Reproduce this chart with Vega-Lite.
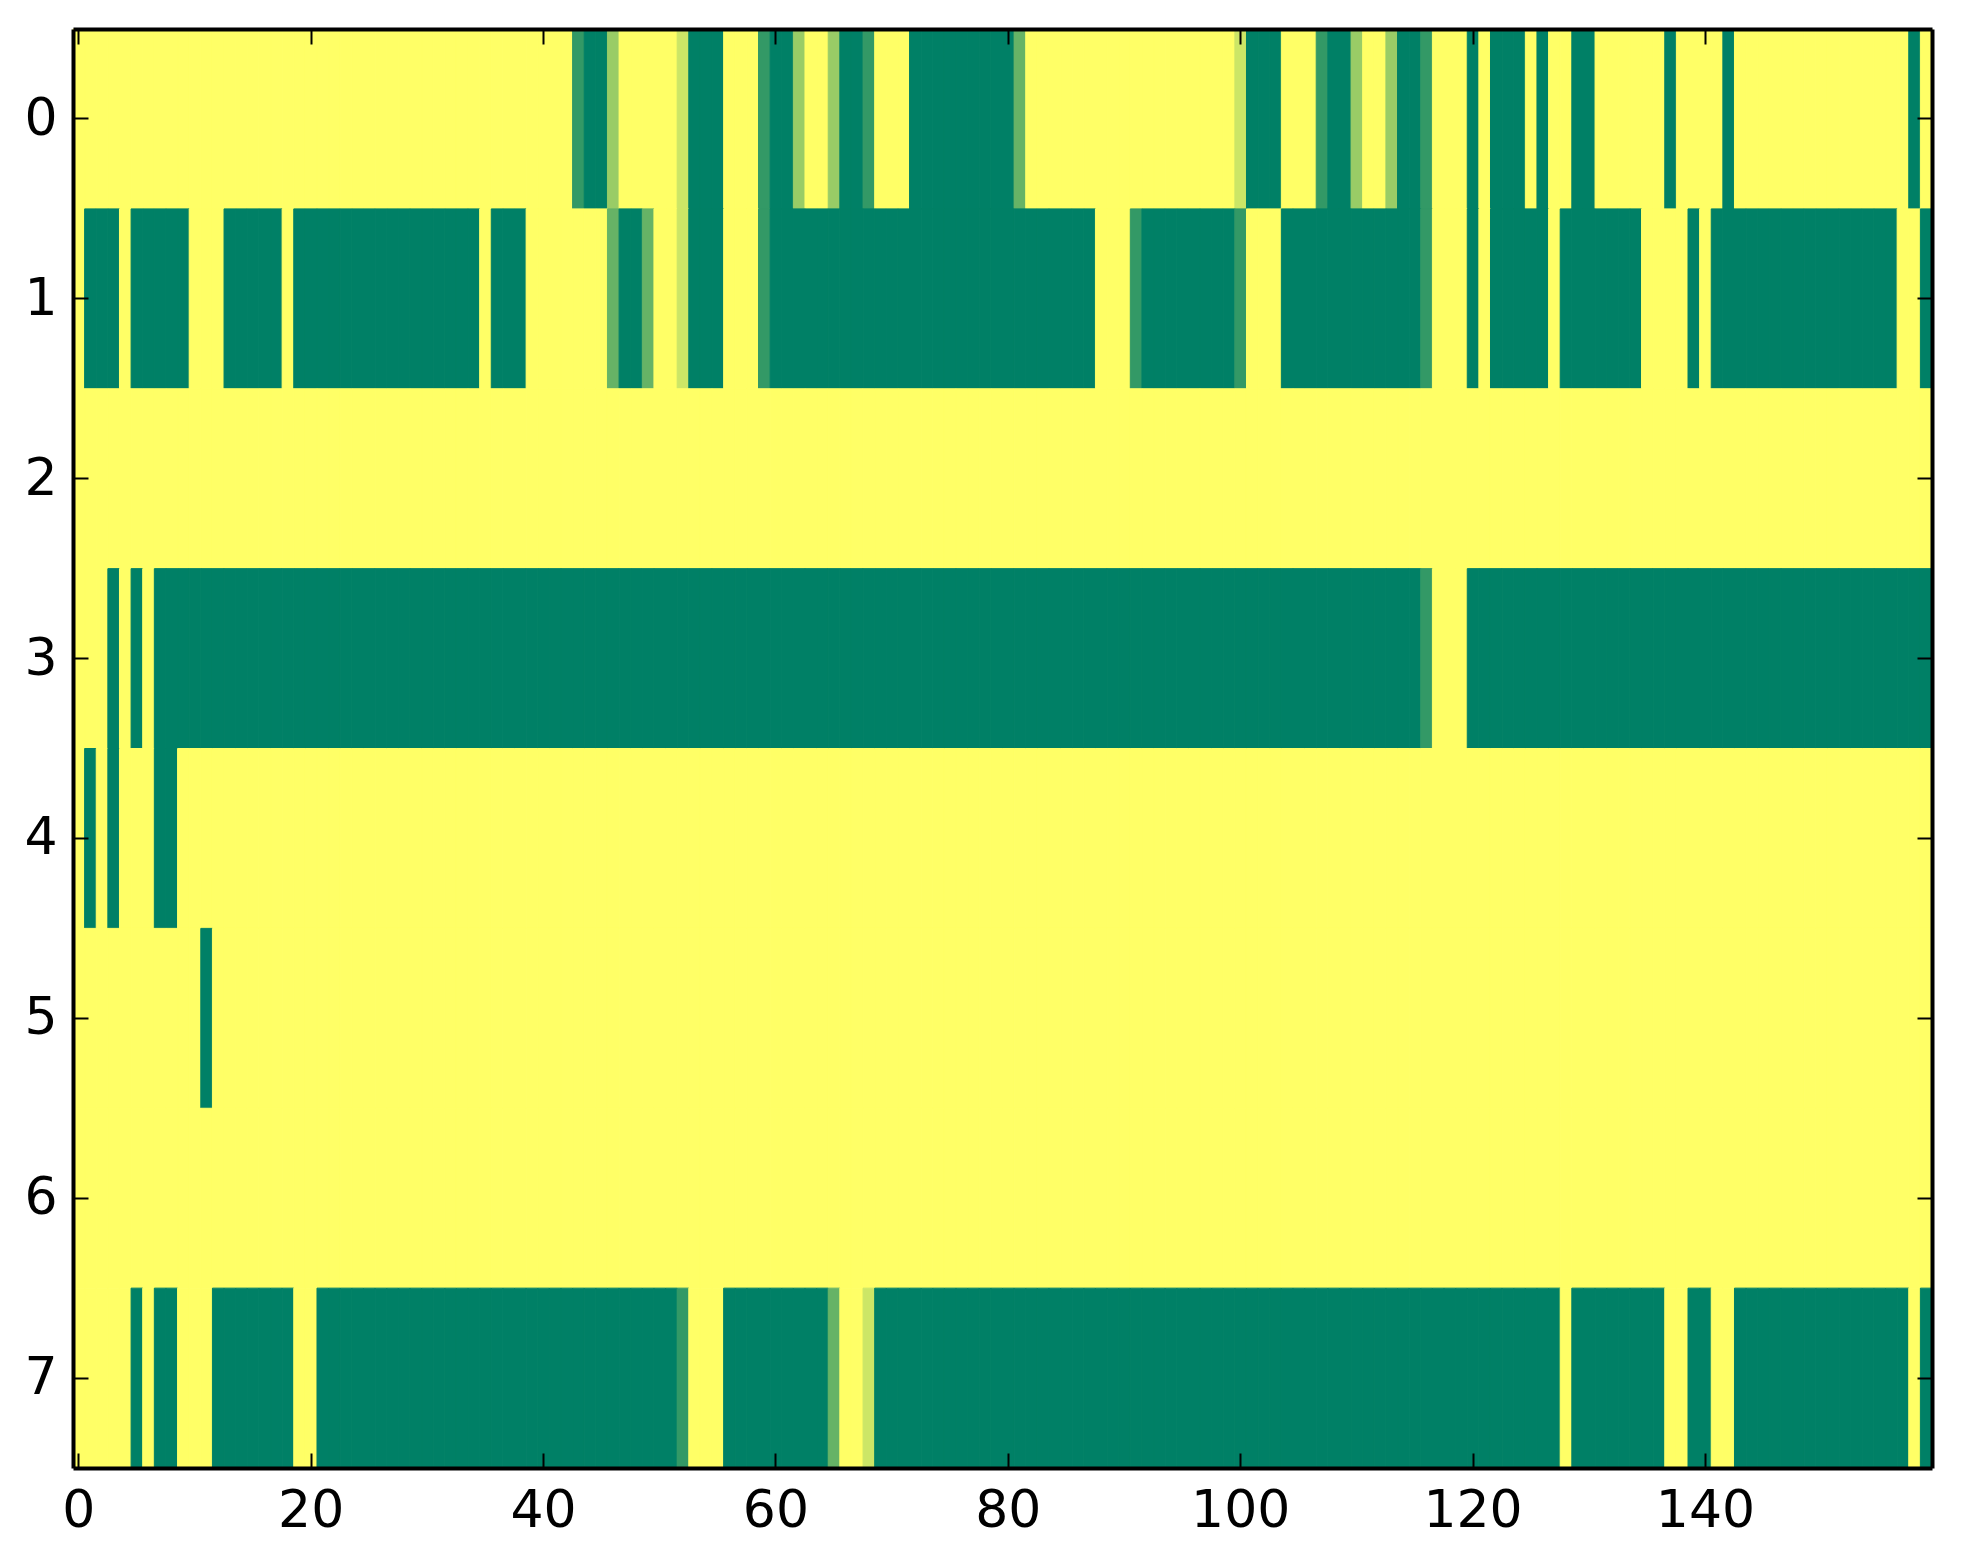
{
  "$schema": "https://vega.github.io/schema/vega-lite/v6.json",
  "width": 1859,
  "height": 1439,
  "autosize": {"type": "none"},
  "padding": {"left": 73, "top": 29, "right": 31, "bottom": 96},
  "background": "white",
  "data": {
    "values": [
      {"r":0,"c":0,"v":1},{"r":0,"c":1,"v":1},{"r":0,"c":2,"v":1},{"r":0,"c":3,"v":1},{"r":0,"c":4,"v":1},{"r":0,"c":5,"v":1},{"r":0,"c":6,"v":1},{"r":0,"c":7,"v":1},{"r":0,"c":8,"v":1},{"r":0,"c":9,"v":1},
      {"r":0,"c":10,"v":1},{"r":0,"c":11,"v":1},{"r":0,"c":12,"v":1},{"r":0,"c":13,"v":1},{"r":0,"c":14,"v":1},{"r":0,"c":15,"v":1},{"r":0,"c":16,"v":1},{"r":0,"c":17,"v":1},{"r":0,"c":18,"v":1},{"r":0,"c":19,"v":1},
      {"r":0,"c":20,"v":1},{"r":0,"c":21,"v":1},{"r":0,"c":22,"v":1},{"r":0,"c":23,"v":1},{"r":0,"c":24,"v":1},{"r":0,"c":25,"v":1},{"r":0,"c":26,"v":1},{"r":0,"c":27,"v":1},{"r":0,"c":28,"v":1},{"r":0,"c":29,"v":1},
      {"r":0,"c":30,"v":1},{"r":0,"c":31,"v":1},{"r":0,"c":32,"v":1},{"r":0,"c":33,"v":1},{"r":0,"c":34,"v":1},{"r":0,"c":35,"v":1},{"r":0,"c":36,"v":1},{"r":0,"c":37,"v":1},{"r":0,"c":38,"v":1},{"r":0,"c":39,"v":1},
      {"r":0,"c":40,"v":1},{"r":0,"c":41,"v":1},{"r":0,"c":42,"v":1},{"r":0,"c":43,"v":0.2},{"r":0,"c":44,"v":0},{"r":0,"c":45,"v":0},{"r":0,"c":46,"v":0.6},{"r":0,"c":47,"v":1},{"r":0,"c":48,"v":1},{"r":0,"c":49,"v":1},
      {"r":0,"c":50,"v":1},{"r":0,"c":51,"v":1},{"r":0,"c":52,"v":0.8},{"r":0,"c":53,"v":0},{"r":0,"c":54,"v":0},{"r":0,"c":55,"v":0},{"r":0,"c":56,"v":1},{"r":0,"c":57,"v":1},{"r":0,"c":58,"v":1},{"r":0,"c":59,"v":0.2},
      {"r":0,"c":60,"v":0},{"r":0,"c":61,"v":0},{"r":0,"c":62,"v":0.6},{"r":0,"c":63,"v":1},{"r":0,"c":64,"v":1},{"r":0,"c":65,"v":0.6},{"r":0,"c":66,"v":0},{"r":0,"c":67,"v":0},{"r":0,"c":68,"v":0.2},{"r":0,"c":69,"v":1},
      {"r":0,"c":70,"v":1},{"r":0,"c":71,"v":1},{"r":0,"c":72,"v":0},{"r":0,"c":73,"v":0},{"r":0,"c":74,"v":0},{"r":0,"c":75,"v":0},{"r":0,"c":76,"v":0},{"r":0,"c":77,"v":0},{"r":0,"c":78,"v":0},{"r":0,"c":79,"v":0},
      {"r":0,"c":80,"v":0},{"r":0,"c":81,"v":0.4},{"r":0,"c":82,"v":1},{"r":0,"c":83,"v":1},{"r":0,"c":84,"v":1},{"r":0,"c":85,"v":1},{"r":0,"c":86,"v":1},{"r":0,"c":87,"v":1},{"r":0,"c":88,"v":1},{"r":0,"c":89,"v":1},
      {"r":0,"c":90,"v":1},{"r":0,"c":91,"v":1},{"r":0,"c":92,"v":1},{"r":0,"c":93,"v":1},{"r":0,"c":94,"v":1},{"r":0,"c":95,"v":1},{"r":0,"c":96,"v":1},{"r":0,"c":97,"v":1},{"r":0,"c":98,"v":1},{"r":0,"c":99,"v":1},
      {"r":0,"c":100,"v":0.8},{"r":0,"c":101,"v":0},{"r":0,"c":102,"v":0},{"r":0,"c":103,"v":0},{"r":0,"c":104,"v":1},{"r":0,"c":105,"v":1},{"r":0,"c":106,"v":1},{"r":0,"c":107,"v":0.2},{"r":0,"c":108,"v":0},{"r":0,"c":109,"v":0},
      {"r":0,"c":110,"v":0.6},{"r":0,"c":111,"v":1},{"r":0,"c":112,"v":1},{"r":0,"c":113,"v":0.6},{"r":0,"c":114,"v":0},{"r":0,"c":115,"v":0},{"r":0,"c":116,"v":0.2},{"r":0,"c":117,"v":1},{"r":0,"c":118,"v":1},{"r":0,"c":119,"v":1},
      {"r":0,"c":120,"v":0},{"r":0,"c":121,"v":1},{"r":0,"c":122,"v":0},{"r":0,"c":123,"v":0},{"r":0,"c":124,"v":0},{"r":0,"c":125,"v":1},{"r":0,"c":126,"v":0},{"r":0,"c":127,"v":1},{"r":0,"c":128,"v":1},{"r":0,"c":129,"v":0},
      {"r":0,"c":130,"v":0},{"r":0,"c":131,"v":1},{"r":0,"c":132,"v":1},{"r":0,"c":133,"v":1},{"r":0,"c":134,"v":1},{"r":0,"c":135,"v":1},{"r":0,"c":136,"v":1},{"r":0,"c":137,"v":0},{"r":0,"c":138,"v":1},{"r":0,"c":139,"v":1},
      {"r":0,"c":140,"v":1},{"r":0,"c":141,"v":1},{"r":0,"c":142,"v":0},{"r":0,"c":143,"v":1},{"r":0,"c":144,"v":1},{"r":0,"c":145,"v":1},{"r":0,"c":146,"v":1},{"r":0,"c":147,"v":1},{"r":0,"c":148,"v":1},{"r":0,"c":149,"v":1},
      {"r":0,"c":150,"v":1},{"r":0,"c":151,"v":1},{"r":0,"c":152,"v":1},{"r":0,"c":153,"v":1},{"r":0,"c":154,"v":1},{"r":0,"c":155,"v":1},{"r":0,"c":156,"v":1},{"r":0,"c":157,"v":1},{"r":0,"c":158,"v":0},{"r":0,"c":159,"v":1},

      {"r":1,"c":0,"v":1},{"r":1,"c":1,"v":0},{"r":1,"c":2,"v":0},{"r":1,"c":3,"v":0},{"r":1,"c":4,"v":1},{"r":1,"c":5,"v":0},{"r":1,"c":6,"v":0},{"r":1,"c":7,"v":0},{"r":1,"c":8,"v":0},{"r":1,"c":9,"v":0},
      {"r":1,"c":10,"v":1},{"r":1,"c":11,"v":1},{"r":1,"c":12,"v":1},{"r":1,"c":13,"v":0},{"r":1,"c":14,"v":0},{"r":1,"c":15,"v":0},{"r":1,"c":16,"v":0},{"r":1,"c":17,"v":0},{"r":1,"c":18,"v":1},{"r":1,"c":19,"v":0},
      {"r":1,"c":20,"v":0},{"r":1,"c":21,"v":0},{"r":1,"c":22,"v":0},{"r":1,"c":23,"v":0},{"r":1,"c":24,"v":0},{"r":1,"c":25,"v":0},{"r":1,"c":26,"v":0},{"r":1,"c":27,"v":0},{"r":1,"c":28,"v":0},{"r":1,"c":29,"v":0},
      {"r":1,"c":30,"v":0},{"r":1,"c":31,"v":0},{"r":1,"c":32,"v":0},{"r":1,"c":33,"v":0},{"r":1,"c":34,"v":0},{"r":1,"c":35,"v":1},{"r":1,"c":36,"v":0},{"r":1,"c":37,"v":0},{"r":1,"c":38,"v":0},{"r":1,"c":39,"v":1},
      {"r":1,"c":40,"v":1},{"r":1,"c":41,"v":1},{"r":1,"c":42,"v":1},{"r":1,"c":43,"v":1},{"r":1,"c":44,"v":1},{"r":1,"c":45,"v":1},{"r":1,"c":46,"v":0.4},{"r":1,"c":47,"v":0},{"r":1,"c":48,"v":0},{"r":1,"c":49,"v":0.4},
      {"r":1,"c":50,"v":1},{"r":1,"c":51,"v":1},{"r":1,"c":52,"v":0.8},{"r":1,"c":53,"v":0},{"r":1,"c":54,"v":0},{"r":1,"c":55,"v":0},{"r":1,"c":56,"v":1},{"r":1,"c":57,"v":1},{"r":1,"c":58,"v":1},{"r":1,"c":59,"v":0.2},
      {"r":1,"c":60,"v":0},{"r":1,"c":61,"v":0},{"r":1,"c":62,"v":0},{"r":1,"c":63,"v":0},{"r":1,"c":64,"v":0},{"r":1,"c":65,"v":0},{"r":1,"c":66,"v":0},{"r":1,"c":67,"v":0},{"r":1,"c":68,"v":0},{"r":1,"c":69,"v":0},
      {"r":1,"c":70,"v":0},{"r":1,"c":71,"v":0},{"r":1,"c":72,"v":0},{"r":1,"c":73,"v":0},{"r":1,"c":74,"v":0},{"r":1,"c":75,"v":0},{"r":1,"c":76,"v":0},{"r":1,"c":77,"v":0},{"r":1,"c":78,"v":0},{"r":1,"c":79,"v":0},
      {"r":1,"c":80,"v":0},{"r":1,"c":81,"v":0},{"r":1,"c":82,"v":0},{"r":1,"c":83,"v":0},{"r":1,"c":84,"v":0},{"r":1,"c":85,"v":0},{"r":1,"c":86,"v":0},{"r":1,"c":87,"v":0},{"r":1,"c":88,"v":1},{"r":1,"c":89,"v":1},
      {"r":1,"c":90,"v":1},{"r":1,"c":91,"v":0.2},{"r":1,"c":92,"v":0},{"r":1,"c":93,"v":0},{"r":1,"c":94,"v":0},{"r":1,"c":95,"v":0},{"r":1,"c":96,"v":0},{"r":1,"c":97,"v":0},{"r":1,"c":98,"v":0},{"r":1,"c":99,"v":0},
      {"r":1,"c":100,"v":0.2},{"r":1,"c":101,"v":1},{"r":1,"c":102,"v":1},{"r":1,"c":103,"v":1},{"r":1,"c":104,"v":0},{"r":1,"c":105,"v":0},{"r":1,"c":106,"v":0},{"r":1,"c":107,"v":0},{"r":1,"c":108,"v":0},{"r":1,"c":109,"v":0},
      {"r":1,"c":110,"v":0},{"r":1,"c":111,"v":0},{"r":1,"c":112,"v":0},{"r":1,"c":113,"v":0},{"r":1,"c":114,"v":0},{"r":1,"c":115,"v":0},{"r":1,"c":116,"v":0.2},{"r":1,"c":117,"v":1},{"r":1,"c":118,"v":1},{"r":1,"c":119,"v":1},
      {"r":1,"c":120,"v":0},{"r":1,"c":121,"v":1},{"r":1,"c":122,"v":0},{"r":1,"c":123,"v":0},{"r":1,"c":124,"v":0},{"r":1,"c":125,"v":0},{"r":1,"c":126,"v":0},{"r":1,"c":127,"v":1},{"r":1,"c":128,"v":0},{"r":1,"c":129,"v":0},
      {"r":1,"c":130,"v":0},{"r":1,"c":131,"v":0},{"r":1,"c":132,"v":0},{"r":1,"c":133,"v":0},{"r":1,"c":134,"v":0},{"r":1,"c":135,"v":1},{"r":1,"c":136,"v":1},{"r":1,"c":137,"v":1},{"r":1,"c":138,"v":1},{"r":1,"c":139,"v":0},
      {"r":1,"c":140,"v":1},{"r":1,"c":141,"v":0},{"r":1,"c":142,"v":0},{"r":1,"c":143,"v":0},{"r":1,"c":144,"v":0},{"r":1,"c":145,"v":0},{"r":1,"c":146,"v":0},{"r":1,"c":147,"v":0},{"r":1,"c":148,"v":0},{"r":1,"c":149,"v":0},
      {"r":1,"c":150,"v":0},{"r":1,"c":151,"v":0},{"r":1,"c":152,"v":0},{"r":1,"c":153,"v":0},{"r":1,"c":154,"v":0},{"r":1,"c":155,"v":0},{"r":1,"c":156,"v":0},{"r":1,"c":157,"v":1},{"r":1,"c":158,"v":1},{"r":1,"c":159,"v":0},

      {"r":2,"c":0,"v":1},{"r":2,"c":1,"v":1},{"r":2,"c":2,"v":1},{"r":2,"c":3,"v":1},{"r":2,"c":4,"v":1},{"r":2,"c":5,"v":1},{"r":2,"c":6,"v":1},{"r":2,"c":7,"v":1},{"r":2,"c":8,"v":1},{"r":2,"c":9,"v":1},
      {"r":2,"c":10,"v":1},{"r":2,"c":11,"v":1},{"r":2,"c":12,"v":1},{"r":2,"c":13,"v":1},{"r":2,"c":14,"v":1},{"r":2,"c":15,"v":1},{"r":2,"c":16,"v":1},{"r":2,"c":17,"v":1},{"r":2,"c":18,"v":1},{"r":2,"c":19,"v":1},
      {"r":2,"c":20,"v":1},{"r":2,"c":21,"v":1},{"r":2,"c":22,"v":1},{"r":2,"c":23,"v":1},{"r":2,"c":24,"v":1},{"r":2,"c":25,"v":1},{"r":2,"c":26,"v":1},{"r":2,"c":27,"v":1},{"r":2,"c":28,"v":1},{"r":2,"c":29,"v":1},
      {"r":2,"c":30,"v":1},{"r":2,"c":31,"v":1},{"r":2,"c":32,"v":1},{"r":2,"c":33,"v":1},{"r":2,"c":34,"v":1},{"r":2,"c":35,"v":1},{"r":2,"c":36,"v":1},{"r":2,"c":37,"v":1},{"r":2,"c":38,"v":1},{"r":2,"c":39,"v":1},
      {"r":2,"c":40,"v":1},{"r":2,"c":41,"v":1},{"r":2,"c":42,"v":1},{"r":2,"c":43,"v":1},{"r":2,"c":44,"v":1},{"r":2,"c":45,"v":1},{"r":2,"c":46,"v":1},{"r":2,"c":47,"v":1},{"r":2,"c":48,"v":1},{"r":2,"c":49,"v":1},
      {"r":2,"c":50,"v":1},{"r":2,"c":51,"v":1},{"r":2,"c":52,"v":1},{"r":2,"c":53,"v":1},{"r":2,"c":54,"v":1},{"r":2,"c":55,"v":1},{"r":2,"c":56,"v":1},{"r":2,"c":57,"v":1},{"r":2,"c":58,"v":1},{"r":2,"c":59,"v":1},
      {"r":2,"c":60,"v":1},{"r":2,"c":61,"v":1},{"r":2,"c":62,"v":1},{"r":2,"c":63,"v":1},{"r":2,"c":64,"v":1},{"r":2,"c":65,"v":1},{"r":2,"c":66,"v":1},{"r":2,"c":67,"v":1},{"r":2,"c":68,"v":1},{"r":2,"c":69,"v":1},
      {"r":2,"c":70,"v":1},{"r":2,"c":71,"v":1},{"r":2,"c":72,"v":1},{"r":2,"c":73,"v":1},{"r":2,"c":74,"v":1},{"r":2,"c":75,"v":1},{"r":2,"c":76,"v":1},{"r":2,"c":77,"v":1},{"r":2,"c":78,"v":1},{"r":2,"c":79,"v":1},
      {"r":2,"c":80,"v":1},{"r":2,"c":81,"v":1},{"r":2,"c":82,"v":1},{"r":2,"c":83,"v":1},{"r":2,"c":84,"v":1},{"r":2,"c":85,"v":1},{"r":2,"c":86,"v":1},{"r":2,"c":87,"v":1},{"r":2,"c":88,"v":1},{"r":2,"c":89,"v":1},
      {"r":2,"c":90,"v":1},{"r":2,"c":91,"v":1},{"r":2,"c":92,"v":1},{"r":2,"c":93,"v":1},{"r":2,"c":94,"v":1},{"r":2,"c":95,"v":1},{"r":2,"c":96,"v":1},{"r":2,"c":97,"v":1},{"r":2,"c":98,"v":1},{"r":2,"c":99,"v":1},
      {"r":2,"c":100,"v":1},{"r":2,"c":101,"v":1},{"r":2,"c":102,"v":1},{"r":2,"c":103,"v":1},{"r":2,"c":104,"v":1},{"r":2,"c":105,"v":1},{"r":2,"c":106,"v":1},{"r":2,"c":107,"v":1},{"r":2,"c":108,"v":1},{"r":2,"c":109,"v":1},
      {"r":2,"c":110,"v":1},{"r":2,"c":111,"v":1},{"r":2,"c":112,"v":1},{"r":2,"c":113,"v":1},{"r":2,"c":114,"v":1},{"r":2,"c":115,"v":1},{"r":2,"c":116,"v":1},{"r":2,"c":117,"v":1},{"r":2,"c":118,"v":1},{"r":2,"c":119,"v":1},
      {"r":2,"c":120,"v":1},{"r":2,"c":121,"v":1},{"r":2,"c":122,"v":1},{"r":2,"c":123,"v":1},{"r":2,"c":124,"v":1},{"r":2,"c":125,"v":1},{"r":2,"c":126,"v":1},{"r":2,"c":127,"v":1},{"r":2,"c":128,"v":1},{"r":2,"c":129,"v":1},
      {"r":2,"c":130,"v":1},{"r":2,"c":131,"v":1},{"r":2,"c":132,"v":1},{"r":2,"c":133,"v":1},{"r":2,"c":134,"v":1},{"r":2,"c":135,"v":1},{"r":2,"c":136,"v":1},{"r":2,"c":137,"v":1},{"r":2,"c":138,"v":1},{"r":2,"c":139,"v":1},
      {"r":2,"c":140,"v":1},{"r":2,"c":141,"v":1},{"r":2,"c":142,"v":1},{"r":2,"c":143,"v":1},{"r":2,"c":144,"v":1},{"r":2,"c":145,"v":1},{"r":2,"c":146,"v":1},{"r":2,"c":147,"v":1},{"r":2,"c":148,"v":1},{"r":2,"c":149,"v":1},
      {"r":2,"c":150,"v":1},{"r":2,"c":151,"v":1},{"r":2,"c":152,"v":1},{"r":2,"c":153,"v":1},{"r":2,"c":154,"v":1},{"r":2,"c":155,"v":1},{"r":2,"c":156,"v":1},{"r":2,"c":157,"v":1},{"r":2,"c":158,"v":1},{"r":2,"c":159,"v":1},

      {"r":3,"c":0,"v":1},{"r":3,"c":1,"v":1},{"r":3,"c":2,"v":1},{"r":3,"c":3,"v":0},{"r":3,"c":4,"v":1},{"r":3,"c":5,"v":0},{"r":3,"c":6,"v":1},{"r":3,"c":7,"v":0},{"r":3,"c":8,"v":0},{"r":3,"c":9,"v":0},
      {"r":3,"c":10,"v":0},{"r":3,"c":11,"v":0},{"r":3,"c":12,"v":0},{"r":3,"c":13,"v":0},{"r":3,"c":14,"v":0},{"r":3,"c":15,"v":0},{"r":3,"c":16,"v":0},{"r":3,"c":17,"v":0},{"r":3,"c":18,"v":0},{"r":3,"c":19,"v":0},
      {"r":3,"c":20,"v":0},{"r":3,"c":21,"v":0},{"r":3,"c":22,"v":0},{"r":3,"c":23,"v":0},{"r":3,"c":24,"v":0},{"r":3,"c":25,"v":0},{"r":3,"c":26,"v":0},{"r":3,"c":27,"v":0},{"r":3,"c":28,"v":0},{"r":3,"c":29,"v":0},
      {"r":3,"c":30,"v":0},{"r":3,"c":31,"v":0},{"r":3,"c":32,"v":0},{"r":3,"c":33,"v":0},{"r":3,"c":34,"v":0},{"r":3,"c":35,"v":0},{"r":3,"c":36,"v":0},{"r":3,"c":37,"v":0},{"r":3,"c":38,"v":0},{"r":3,"c":39,"v":0},
      {"r":3,"c":40,"v":0},{"r":3,"c":41,"v":0},{"r":3,"c":42,"v":0},{"r":3,"c":43,"v":0},{"r":3,"c":44,"v":0},{"r":3,"c":45,"v":0},{"r":3,"c":46,"v":0},{"r":3,"c":47,"v":0},{"r":3,"c":48,"v":0},{"r":3,"c":49,"v":0},
      {"r":3,"c":50,"v":0},{"r":3,"c":51,"v":0},{"r":3,"c":52,"v":0},{"r":3,"c":53,"v":0},{"r":3,"c":54,"v":0},{"r":3,"c":55,"v":0},{"r":3,"c":56,"v":0},{"r":3,"c":57,"v":0},{"r":3,"c":58,"v":0},{"r":3,"c":59,"v":0},
      {"r":3,"c":60,"v":0},{"r":3,"c":61,"v":0},{"r":3,"c":62,"v":0},{"r":3,"c":63,"v":0},{"r":3,"c":64,"v":0},{"r":3,"c":65,"v":0},{"r":3,"c":66,"v":0},{"r":3,"c":67,"v":0},{"r":3,"c":68,"v":0},{"r":3,"c":69,"v":0},
      {"r":3,"c":70,"v":0},{"r":3,"c":71,"v":0},{"r":3,"c":72,"v":0},{"r":3,"c":73,"v":0},{"r":3,"c":74,"v":0},{"r":3,"c":75,"v":0},{"r":3,"c":76,"v":0},{"r":3,"c":77,"v":0},{"r":3,"c":78,"v":0},{"r":3,"c":79,"v":0},
      {"r":3,"c":80,"v":0},{"r":3,"c":81,"v":0},{"r":3,"c":82,"v":0},{"r":3,"c":83,"v":0},{"r":3,"c":84,"v":0},{"r":3,"c":85,"v":0},{"r":3,"c":86,"v":0},{"r":3,"c":87,"v":0},{"r":3,"c":88,"v":0},{"r":3,"c":89,"v":0},
      {"r":3,"c":90,"v":0},{"r":3,"c":91,"v":0},{"r":3,"c":92,"v":0},{"r":3,"c":93,"v":0},{"r":3,"c":94,"v":0},{"r":3,"c":95,"v":0},{"r":3,"c":96,"v":0},{"r":3,"c":97,"v":0},{"r":3,"c":98,"v":0},{"r":3,"c":99,"v":0},
      {"r":3,"c":100,"v":0},{"r":3,"c":101,"v":0},{"r":3,"c":102,"v":0},{"r":3,"c":103,"v":0},{"r":3,"c":104,"v":0},{"r":3,"c":105,"v":0},{"r":3,"c":106,"v":0},{"r":3,"c":107,"v":0},{"r":3,"c":108,"v":0},{"r":3,"c":109,"v":0},
      {"r":3,"c":110,"v":0},{"r":3,"c":111,"v":0},{"r":3,"c":112,"v":0},{"r":3,"c":113,"v":0},{"r":3,"c":114,"v":0},{"r":3,"c":115,"v":0},{"r":3,"c":116,"v":0.2},{"r":3,"c":117,"v":1},{"r":3,"c":118,"v":1},{"r":3,"c":119,"v":1},
      {"r":3,"c":120,"v":0},{"r":3,"c":121,"v":0},{"r":3,"c":122,"v":0},{"r":3,"c":123,"v":0},{"r":3,"c":124,"v":0},{"r":3,"c":125,"v":0},{"r":3,"c":126,"v":0},{"r":3,"c":127,"v":0},{"r":3,"c":128,"v":0},{"r":3,"c":129,"v":0},
      {"r":3,"c":130,"v":0},{"r":3,"c":131,"v":0},{"r":3,"c":132,"v":0},{"r":3,"c":133,"v":0},{"r":3,"c":134,"v":0},{"r":3,"c":135,"v":0},{"r":3,"c":136,"v":0},{"r":3,"c":137,"v":0},{"r":3,"c":138,"v":0},{"r":3,"c":139,"v":0},
      {"r":3,"c":140,"v":0},{"r":3,"c":141,"v":0},{"r":3,"c":142,"v":0},{"r":3,"c":143,"v":0},{"r":3,"c":144,"v":0},{"r":3,"c":145,"v":0},{"r":3,"c":146,"v":0},{"r":3,"c":147,"v":0},{"r":3,"c":148,"v":0},{"r":3,"c":149,"v":0},
      {"r":3,"c":150,"v":0},{"r":3,"c":151,"v":0},{"r":3,"c":152,"v":0},{"r":3,"c":153,"v":0},{"r":3,"c":154,"v":0},{"r":3,"c":155,"v":0},{"r":3,"c":156,"v":0},{"r":3,"c":157,"v":0},{"r":3,"c":158,"v":0},{"r":3,"c":159,"v":0},

      {"r":4,"c":0,"v":1},{"r":4,"c":1,"v":0},{"r":4,"c":2,"v":1},{"r":4,"c":3,"v":0},{"r":4,"c":4,"v":1},{"r":4,"c":5,"v":1},{"r":4,"c":6,"v":1},{"r":4,"c":7,"v":0},{"r":4,"c":8,"v":0},{"r":4,"c":9,"v":1},
      {"r":4,"c":10,"v":1},{"r":4,"c":11,"v":1},{"r":4,"c":12,"v":1},{"r":4,"c":13,"v":1},{"r":4,"c":14,"v":1},{"r":4,"c":15,"v":1},{"r":4,"c":16,"v":1},{"r":4,"c":17,"v":1},{"r":4,"c":18,"v":1},{"r":4,"c":19,"v":1},
      {"r":4,"c":20,"v":1},{"r":4,"c":21,"v":1},{"r":4,"c":22,"v":1},{"r":4,"c":23,"v":1},{"r":4,"c":24,"v":1},{"r":4,"c":25,"v":1},{"r":4,"c":26,"v":1},{"r":4,"c":27,"v":1},{"r":4,"c":28,"v":1},{"r":4,"c":29,"v":1},
      {"r":4,"c":30,"v":1},{"r":4,"c":31,"v":1},{"r":4,"c":32,"v":1},{"r":4,"c":33,"v":1},{"r":4,"c":34,"v":1},{"r":4,"c":35,"v":1},{"r":4,"c":36,"v":1},{"r":4,"c":37,"v":1},{"r":4,"c":38,"v":1},{"r":4,"c":39,"v":1},
      {"r":4,"c":40,"v":1},{"r":4,"c":41,"v":1},{"r":4,"c":42,"v":1},{"r":4,"c":43,"v":1},{"r":4,"c":44,"v":1},{"r":4,"c":45,"v":1},{"r":4,"c":46,"v":1},{"r":4,"c":47,"v":1},{"r":4,"c":48,"v":1},{"r":4,"c":49,"v":1},
      {"r":4,"c":50,"v":1},{"r":4,"c":51,"v":1},{"r":4,"c":52,"v":1},{"r":4,"c":53,"v":1},{"r":4,"c":54,"v":1},{"r":4,"c":55,"v":1},{"r":4,"c":56,"v":1},{"r":4,"c":57,"v":1},{"r":4,"c":58,"v":1},{"r":4,"c":59,"v":1},
      {"r":4,"c":60,"v":1},{"r":4,"c":61,"v":1},{"r":4,"c":62,"v":1},{"r":4,"c":63,"v":1},{"r":4,"c":64,"v":1},{"r":4,"c":65,"v":1},{"r":4,"c":66,"v":1},{"r":4,"c":67,"v":1},{"r":4,"c":68,"v":1},{"r":4,"c":69,"v":1},
      {"r":4,"c":70,"v":1},{"r":4,"c":71,"v":1},{"r":4,"c":72,"v":1},{"r":4,"c":73,"v":1},{"r":4,"c":74,"v":1},{"r":4,"c":75,"v":1},{"r":4,"c":76,"v":1},{"r":4,"c":77,"v":1},{"r":4,"c":78,"v":1},{"r":4,"c":79,"v":1},
      {"r":4,"c":80,"v":1},{"r":4,"c":81,"v":1},{"r":4,"c":82,"v":1},{"r":4,"c":83,"v":1},{"r":4,"c":84,"v":1},{"r":4,"c":85,"v":1},{"r":4,"c":86,"v":1},{"r":4,"c":87,"v":1},{"r":4,"c":88,"v":1},{"r":4,"c":89,"v":1},
      {"r":4,"c":90,"v":1},{"r":4,"c":91,"v":1},{"r":4,"c":92,"v":1},{"r":4,"c":93,"v":1},{"r":4,"c":94,"v":1},{"r":4,"c":95,"v":1},{"r":4,"c":96,"v":1},{"r":4,"c":97,"v":1},{"r":4,"c":98,"v":1},{"r":4,"c":99,"v":1},
      {"r":4,"c":100,"v":1},{"r":4,"c":101,"v":1},{"r":4,"c":102,"v":1},{"r":4,"c":103,"v":1},{"r":4,"c":104,"v":1},{"r":4,"c":105,"v":1},{"r":4,"c":106,"v":1},{"r":4,"c":107,"v":1},{"r":4,"c":108,"v":1},{"r":4,"c":109,"v":1},
      {"r":4,"c":110,"v":1},{"r":4,"c":111,"v":1},{"r":4,"c":112,"v":1},{"r":4,"c":113,"v":1},{"r":4,"c":114,"v":1},{"r":4,"c":115,"v":1},{"r":4,"c":116,"v":1},{"r":4,"c":117,"v":1},{"r":4,"c":118,"v":1},{"r":4,"c":119,"v":1},
      {"r":4,"c":120,"v":1},{"r":4,"c":121,"v":1},{"r":4,"c":122,"v":1},{"r":4,"c":123,"v":1},{"r":4,"c":124,"v":1},{"r":4,"c":125,"v":1},{"r":4,"c":126,"v":1},{"r":4,"c":127,"v":1},{"r":4,"c":128,"v":1},{"r":4,"c":129,"v":1},
      {"r":4,"c":130,"v":1},{"r":4,"c":131,"v":1},{"r":4,"c":132,"v":1},{"r":4,"c":133,"v":1},{"r":4,"c":134,"v":1},{"r":4,"c":135,"v":1},{"r":4,"c":136,"v":1},{"r":4,"c":137,"v":1},{"r":4,"c":138,"v":1},{"r":4,"c":139,"v":1},
      {"r":4,"c":140,"v":1},{"r":4,"c":141,"v":1},{"r":4,"c":142,"v":1},{"r":4,"c":143,"v":1},{"r":4,"c":144,"v":1},{"r":4,"c":145,"v":1},{"r":4,"c":146,"v":1},{"r":4,"c":147,"v":1},{"r":4,"c":148,"v":1},{"r":4,"c":149,"v":1},
      {"r":4,"c":150,"v":1},{"r":4,"c":151,"v":1},{"r":4,"c":152,"v":1},{"r":4,"c":153,"v":1},{"r":4,"c":154,"v":1},{"r":4,"c":155,"v":1},{"r":4,"c":156,"v":1},{"r":4,"c":157,"v":1},{"r":4,"c":158,"v":1},{"r":4,"c":159,"v":1},

      {"r":5,"c":0,"v":1},{"r":5,"c":1,"v":1},{"r":5,"c":2,"v":1},{"r":5,"c":3,"v":1},{"r":5,"c":4,"v":1},{"r":5,"c":5,"v":1},{"r":5,"c":6,"v":1},{"r":5,"c":7,"v":1},{"r":5,"c":8,"v":1},{"r":5,"c":9,"v":1},
      {"r":5,"c":10,"v":1},{"r":5,"c":11,"v":0},{"r":5,"c":12,"v":1},{"r":5,"c":13,"v":1},{"r":5,"c":14,"v":1},{"r":5,"c":15,"v":1},{"r":5,"c":16,"v":1},{"r":5,"c":17,"v":1},{"r":5,"c":18,"v":1},{"r":5,"c":19,"v":1},
      {"r":5,"c":20,"v":1},{"r":5,"c":21,"v":1},{"r":5,"c":22,"v":1},{"r":5,"c":23,"v":1},{"r":5,"c":24,"v":1},{"r":5,"c":25,"v":1},{"r":5,"c":26,"v":1},{"r":5,"c":27,"v":1},{"r":5,"c":28,"v":1},{"r":5,"c":29,"v":1},
      {"r":5,"c":30,"v":1},{"r":5,"c":31,"v":1},{"r":5,"c":32,"v":1},{"r":5,"c":33,"v":1},{"r":5,"c":34,"v":1},{"r":5,"c":35,"v":1},{"r":5,"c":36,"v":1},{"r":5,"c":37,"v":1},{"r":5,"c":38,"v":1},{"r":5,"c":39,"v":1},
      {"r":5,"c":40,"v":1},{"r":5,"c":41,"v":1},{"r":5,"c":42,"v":1},{"r":5,"c":43,"v":1},{"r":5,"c":44,"v":1},{"r":5,"c":45,"v":1},{"r":5,"c":46,"v":1},{"r":5,"c":47,"v":1},{"r":5,"c":48,"v":1},{"r":5,"c":49,"v":1},
      {"r":5,"c":50,"v":1},{"r":5,"c":51,"v":1},{"r":5,"c":52,"v":1},{"r":5,"c":53,"v":1},{"r":5,"c":54,"v":1},{"r":5,"c":55,"v":1},{"r":5,"c":56,"v":1},{"r":5,"c":57,"v":1},{"r":5,"c":58,"v":1},{"r":5,"c":59,"v":1},
      {"r":5,"c":60,"v":1},{"r":5,"c":61,"v":1},{"r":5,"c":62,"v":1},{"r":5,"c":63,"v":1},{"r":5,"c":64,"v":1},{"r":5,"c":65,"v":1},{"r":5,"c":66,"v":1},{"r":5,"c":67,"v":1},{"r":5,"c":68,"v":1},{"r":5,"c":69,"v":1},
      {"r":5,"c":70,"v":1},{"r":5,"c":71,"v":1},{"r":5,"c":72,"v":1},{"r":5,"c":73,"v":1},{"r":5,"c":74,"v":1},{"r":5,"c":75,"v":1},{"r":5,"c":76,"v":1},{"r":5,"c":77,"v":1},{"r":5,"c":78,"v":1},{"r":5,"c":79,"v":1},
      {"r":5,"c":80,"v":1},{"r":5,"c":81,"v":1},{"r":5,"c":82,"v":1},{"r":5,"c":83,"v":1},{"r":5,"c":84,"v":1},{"r":5,"c":85,"v":1},{"r":5,"c":86,"v":1},{"r":5,"c":87,"v":1},{"r":5,"c":88,"v":1},{"r":5,"c":89,"v":1},
      {"r":5,"c":90,"v":1},{"r":5,"c":91,"v":1},{"r":5,"c":92,"v":1},{"r":5,"c":93,"v":1},{"r":5,"c":94,"v":1},{"r":5,"c":95,"v":1},{"r":5,"c":96,"v":1},{"r":5,"c":97,"v":1},{"r":5,"c":98,"v":1},{"r":5,"c":99,"v":1},
      {"r":5,"c":100,"v":1},{"r":5,"c":101,"v":1},{"r":5,"c":102,"v":1},{"r":5,"c":103,"v":1},{"r":5,"c":104,"v":1},{"r":5,"c":105,"v":1},{"r":5,"c":106,"v":1},{"r":5,"c":107,"v":1},{"r":5,"c":108,"v":1},{"r":5,"c":109,"v":1},
      {"r":5,"c":110,"v":1},{"r":5,"c":111,"v":1},{"r":5,"c":112,"v":1},{"r":5,"c":113,"v":1},{"r":5,"c":114,"v":1},{"r":5,"c":115,"v":1},{"r":5,"c":116,"v":1},{"r":5,"c":117,"v":1},{"r":5,"c":118,"v":1},{"r":5,"c":119,"v":1},
      {"r":5,"c":120,"v":1},{"r":5,"c":121,"v":1},{"r":5,"c":122,"v":1},{"r":5,"c":123,"v":1},{"r":5,"c":124,"v":1},{"r":5,"c":125,"v":1},{"r":5,"c":126,"v":1},{"r":5,"c":127,"v":1},{"r":5,"c":128,"v":1},{"r":5,"c":129,"v":1},
      {"r":5,"c":130,"v":1},{"r":5,"c":131,"v":1},{"r":5,"c":132,"v":1},{"r":5,"c":133,"v":1},{"r":5,"c":134,"v":1},{"r":5,"c":135,"v":1},{"r":5,"c":136,"v":1},{"r":5,"c":137,"v":1},{"r":5,"c":138,"v":1},{"r":5,"c":139,"v":1},
      {"r":5,"c":140,"v":1},{"r":5,"c":141,"v":1},{"r":5,"c":142,"v":1},{"r":5,"c":143,"v":1},{"r":5,"c":144,"v":1},{"r":5,"c":145,"v":1},{"r":5,"c":146,"v":1},{"r":5,"c":147,"v":1},{"r":5,"c":148,"v":1},{"r":5,"c":149,"v":1},
      {"r":5,"c":150,"v":1},{"r":5,"c":151,"v":1},{"r":5,"c":152,"v":1},{"r":5,"c":153,"v":1},{"r":5,"c":154,"v":1},{"r":5,"c":155,"v":1},{"r":5,"c":156,"v":1},{"r":5,"c":157,"v":1},{"r":5,"c":158,"v":1},{"r":5,"c":159,"v":1},

      {"r":6,"c":0,"v":1},{"r":6,"c":1,"v":1},{"r":6,"c":2,"v":1},{"r":6,"c":3,"v":1},{"r":6,"c":4,"v":1},{"r":6,"c":5,"v":1},{"r":6,"c":6,"v":1},{"r":6,"c":7,"v":1},{"r":6,"c":8,"v":1},{"r":6,"c":9,"v":1},
      {"r":6,"c":10,"v":1},{"r":6,"c":11,"v":1},{"r":6,"c":12,"v":1},{"r":6,"c":13,"v":1},{"r":6,"c":14,"v":1},{"r":6,"c":15,"v":1},{"r":6,"c":16,"v":1},{"r":6,"c":17,"v":1},{"r":6,"c":18,"v":1},{"r":6,"c":19,"v":1},
      {"r":6,"c":20,"v":1},{"r":6,"c":21,"v":1},{"r":6,"c":22,"v":1},{"r":6,"c":23,"v":1},{"r":6,"c":24,"v":1},{"r":6,"c":25,"v":1},{"r":6,"c":26,"v":1},{"r":6,"c":27,"v":1},{"r":6,"c":28,"v":1},{"r":6,"c":29,"v":1},
      {"r":6,"c":30,"v":1},{"r":6,"c":31,"v":1},{"r":6,"c":32,"v":1},{"r":6,"c":33,"v":1},{"r":6,"c":34,"v":1},{"r":6,"c":35,"v":1},{"r":6,"c":36,"v":1},{"r":6,"c":37,"v":1},{"r":6,"c":38,"v":1},{"r":6,"c":39,"v":1},
      {"r":6,"c":40,"v":1},{"r":6,"c":41,"v":1},{"r":6,"c":42,"v":1},{"r":6,"c":43,"v":1},{"r":6,"c":44,"v":1},{"r":6,"c":45,"v":1},{"r":6,"c":46,"v":1},{"r":6,"c":47,"v":1},{"r":6,"c":48,"v":1},{"r":6,"c":49,"v":1},
      {"r":6,"c":50,"v":1},{"r":6,"c":51,"v":1},{"r":6,"c":52,"v":1},{"r":6,"c":53,"v":1},{"r":6,"c":54,"v":1},{"r":6,"c":55,"v":1},{"r":6,"c":56,"v":1},{"r":6,"c":57,"v":1},{"r":6,"c":58,"v":1},{"r":6,"c":59,"v":1},
      {"r":6,"c":60,"v":1},{"r":6,"c":61,"v":1},{"r":6,"c":62,"v":1},{"r":6,"c":63,"v":1},{"r":6,"c":64,"v":1},{"r":6,"c":65,"v":1},{"r":6,"c":66,"v":1},{"r":6,"c":67,"v":1},{"r":6,"c":68,"v":1},{"r":6,"c":69,"v":1},
      {"r":6,"c":70,"v":1},{"r":6,"c":71,"v":1},{"r":6,"c":72,"v":1},{"r":6,"c":73,"v":1},{"r":6,"c":74,"v":1},{"r":6,"c":75,"v":1},{"r":6,"c":76,"v":1},{"r":6,"c":77,"v":1},{"r":6,"c":78,"v":1},{"r":6,"c":79,"v":1},
      {"r":6,"c":80,"v":1},{"r":6,"c":81,"v":1},{"r":6,"c":82,"v":1},{"r":6,"c":83,"v":1},{"r":6,"c":84,"v":1},{"r":6,"c":85,"v":1},{"r":6,"c":86,"v":1},{"r":6,"c":87,"v":1},{"r":6,"c":88,"v":1},{"r":6,"c":89,"v":1},
      {"r":6,"c":90,"v":1},{"r":6,"c":91,"v":1},{"r":6,"c":92,"v":1},{"r":6,"c":93,"v":1},{"r":6,"c":94,"v":1},{"r":6,"c":95,"v":1},{"r":6,"c":96,"v":1},{"r":6,"c":97,"v":1},{"r":6,"c":98,"v":1},{"r":6,"c":99,"v":1},
      {"r":6,"c":100,"v":1},{"r":6,"c":101,"v":1},{"r":6,"c":102,"v":1},{"r":6,"c":103,"v":1},{"r":6,"c":104,"v":1},{"r":6,"c":105,"v":1},{"r":6,"c":106,"v":1},{"r":6,"c":107,"v":1},{"r":6,"c":108,"v":1},{"r":6,"c":109,"v":1},
      {"r":6,"c":110,"v":1},{"r":6,"c":111,"v":1},{"r":6,"c":112,"v":1},{"r":6,"c":113,"v":1},{"r":6,"c":114,"v":1},{"r":6,"c":115,"v":1},{"r":6,"c":116,"v":1},{"r":6,"c":117,"v":1},{"r":6,"c":118,"v":1},{"r":6,"c":119,"v":1},
      {"r":6,"c":120,"v":1},{"r":6,"c":121,"v":1},{"r":6,"c":122,"v":1},{"r":6,"c":123,"v":1},{"r":6,"c":124,"v":1},{"r":6,"c":125,"v":1},{"r":6,"c":126,"v":1},{"r":6,"c":127,"v":1},{"r":6,"c":128,"v":1},{"r":6,"c":129,"v":1},
      {"r":6,"c":130,"v":1},{"r":6,"c":131,"v":1},{"r":6,"c":132,"v":1},{"r":6,"c":133,"v":1},{"r":6,"c":134,"v":1},{"r":6,"c":135,"v":1},{"r":6,"c":136,"v":1},{"r":6,"c":137,"v":1},{"r":6,"c":138,"v":1},{"r":6,"c":139,"v":1},
      {"r":6,"c":140,"v":1},{"r":6,"c":141,"v":1},{"r":6,"c":142,"v":1},{"r":6,"c":143,"v":1},{"r":6,"c":144,"v":1},{"r":6,"c":145,"v":1},{"r":6,"c":146,"v":1},{"r":6,"c":147,"v":1},{"r":6,"c":148,"v":1},{"r":6,"c":149,"v":1},
      {"r":6,"c":150,"v":1},{"r":6,"c":151,"v":1},{"r":6,"c":152,"v":1},{"r":6,"c":153,"v":1},{"r":6,"c":154,"v":1},{"r":6,"c":155,"v":1},{"r":6,"c":156,"v":1},{"r":6,"c":157,"v":1},{"r":6,"c":158,"v":1},{"r":6,"c":159,"v":1},

      {"r":7,"c":0,"v":1},{"r":7,"c":1,"v":1},{"r":7,"c":2,"v":1},{"r":7,"c":3,"v":1},{"r":7,"c":4,"v":1},{"r":7,"c":5,"v":0},{"r":7,"c":6,"v":1},{"r":7,"c":7,"v":0},{"r":7,"c":8,"v":0},{"r":7,"c":9,"v":1},
      {"r":7,"c":10,"v":1},{"r":7,"c":11,"v":1},{"r":7,"c":12,"v":0},{"r":7,"c":13,"v":0},{"r":7,"c":14,"v":0},{"r":7,"c":15,"v":0},{"r":7,"c":16,"v":0},{"r":7,"c":17,"v":0},{"r":7,"c":18,"v":0},{"r":7,"c":19,"v":1},
      {"r":7,"c":20,"v":1},{"r":7,"c":21,"v":0},{"r":7,"c":22,"v":0},{"r":7,"c":23,"v":0},{"r":7,"c":24,"v":0},{"r":7,"c":25,"v":0},{"r":7,"c":26,"v":0},{"r":7,"c":27,"v":0},{"r":7,"c":28,"v":0},{"r":7,"c":29,"v":0},
      {"r":7,"c":30,"v":0},{"r":7,"c":31,"v":0},{"r":7,"c":32,"v":0},{"r":7,"c":33,"v":0},{"r":7,"c":34,"v":0},{"r":7,"c":35,"v":0},{"r":7,"c":36,"v":0},{"r":7,"c":37,"v":0},{"r":7,"c":38,"v":0},{"r":7,"c":39,"v":0},
      {"r":7,"c":40,"v":0},{"r":7,"c":41,"v":0},{"r":7,"c":42,"v":0},{"r":7,"c":43,"v":0},{"r":7,"c":44,"v":0},{"r":7,"c":45,"v":0},{"r":7,"c":46,"v":0},{"r":7,"c":47,"v":0},{"r":7,"c":48,"v":0},{"r":7,"c":49,"v":0},
      {"r":7,"c":50,"v":0},{"r":7,"c":51,"v":0},{"r":7,"c":52,"v":0.2},{"r":7,"c":53,"v":1},{"r":7,"c":54,"v":1},{"r":7,"c":55,"v":1},{"r":7,"c":56,"v":0},{"r":7,"c":57,"v":0},{"r":7,"c":58,"v":0},{"r":7,"c":59,"v":0},
      {"r":7,"c":60,"v":0},{"r":7,"c":61,"v":0},{"r":7,"c":62,"v":0},{"r":7,"c":63,"v":0},{"r":7,"c":64,"v":0},{"r":7,"c":65,"v":0.4},{"r":7,"c":66,"v":1},{"r":7,"c":67,"v":1},{"r":7,"c":68,"v":0.8},{"r":7,"c":69,"v":0},
      {"r":7,"c":70,"v":0},{"r":7,"c":71,"v":0},{"r":7,"c":72,"v":0},{"r":7,"c":73,"v":0},{"r":7,"c":74,"v":0},{"r":7,"c":75,"v":0},{"r":7,"c":76,"v":0},{"r":7,"c":77,"v":0},{"r":7,"c":78,"v":0},{"r":7,"c":79,"v":0},
      {"r":7,"c":80,"v":0},{"r":7,"c":81,"v":0},{"r":7,"c":82,"v":0},{"r":7,"c":83,"v":0},{"r":7,"c":84,"v":0},{"r":7,"c":85,"v":0},{"r":7,"c":86,"v":0},{"r":7,"c":87,"v":0},{"r":7,"c":88,"v":0},{"r":7,"c":89,"v":0},
      {"r":7,"c":90,"v":0},{"r":7,"c":91,"v":0},{"r":7,"c":92,"v":0},{"r":7,"c":93,"v":0},{"r":7,"c":94,"v":0},{"r":7,"c":95,"v":0},{"r":7,"c":96,"v":0},{"r":7,"c":97,"v":0},{"r":7,"c":98,"v":0},{"r":7,"c":99,"v":0},
      {"r":7,"c":100,"v":0},{"r":7,"c":101,"v":0},{"r":7,"c":102,"v":0},{"r":7,"c":103,"v":0},{"r":7,"c":104,"v":0},{"r":7,"c":105,"v":0},{"r":7,"c":106,"v":0},{"r":7,"c":107,"v":0},{"r":7,"c":108,"v":0},{"r":7,"c":109,"v":0},
      {"r":7,"c":110,"v":0},{"r":7,"c":111,"v":0},{"r":7,"c":112,"v":0},{"r":7,"c":113,"v":0},{"r":7,"c":114,"v":0},{"r":7,"c":115,"v":0},{"r":7,"c":116,"v":0},{"r":7,"c":117,"v":0},{"r":7,"c":118,"v":0},{"r":7,"c":119,"v":0},
      {"r":7,"c":120,"v":0},{"r":7,"c":121,"v":0},{"r":7,"c":122,"v":0},{"r":7,"c":123,"v":0},{"r":7,"c":124,"v":0},{"r":7,"c":125,"v":0},{"r":7,"c":126,"v":0},{"r":7,"c":127,"v":0},{"r":7,"c":128,"v":1},{"r":7,"c":129,"v":0},
      {"r":7,"c":130,"v":0},{"r":7,"c":131,"v":0},{"r":7,"c":132,"v":0},{"r":7,"c":133,"v":0},{"r":7,"c":134,"v":0},{"r":7,"c":135,"v":0},{"r":7,"c":136,"v":0},{"r":7,"c":137,"v":1},{"r":7,"c":138,"v":1},{"r":7,"c":139,"v":0},
      {"r":7,"c":140,"v":0},{"r":7,"c":141,"v":1},{"r":7,"c":142,"v":1},{"r":7,"c":143,"v":0},{"r":7,"c":144,"v":0},{"r":7,"c":145,"v":0},{"r":7,"c":146,"v":0},{"r":7,"c":147,"v":0},{"r":7,"c":148,"v":0},{"r":7,"c":149,"v":0},
      {"r":7,"c":150,"v":0},{"r":7,"c":151,"v":0},{"r":7,"c":152,"v":0},{"r":7,"c":153,"v":0},{"r":7,"c":154,"v":0},{"r":7,"c":155,"v":0},{"r":7,"c":156,"v":0},{"r":7,"c":157,"v":0},{"r":7,"c":158,"v":1},{"r":7,"c":159,"v":0}
    ]
  },
  "layer": [
    {
      "mark": {"type": "rect", "strokeWidth": 1},
      "encoding": {
        "x": {
          "field": "c",
          "type": "ordinal",
          "scale": {"paddingInner": 0, "paddingOuter": 0},
          "axis": {
            "orient": "bottom",
            "values": [0, 20, 40, 60, 80, 100, 120, 140],
            "labelAngle": 0,
            "labelPadding": 32,
            "zindex": 2,
            "title": null
          }
        },
        "y": {
          "field": "r",
          "type": "ordinal",
          "scale": {"paddingInner": 0, "paddingOuter": 0},
          "axis": {
            "orient": "left",
            "labelPadding": 31,
            "zindex": 2,
            "title": null
          }
        },
        "fill": {
          "field": "v",
          "type": "quantitative",
          "scale": {"domain": [0, 1], "range": ["#008066", "#ffff66"], "interpolate": "rgb"},
          "legend": null
        },
        "stroke": {
          "field": "v",
          "type": "quantitative",
          "scale": {"domain": [0, 1], "range": ["#008066", "#ffff66"], "interpolate": "rgb"},
          "legend": null
        }
      }
    },
    {
      "mark": {"type": "rect", "opacity": 0},
      "encoding": {
        "x": {
          "field": "c",
          "type": "ordinal",
          "axis": {
            "orient": "top",
            "values": [0, 20, 40, 60, 80, 100, 120, 140],
            "labels": false,
            "zindex": 2,
            "title": null
          }
        },
        "y": {
          "field": "r",
          "type": "ordinal",
          "axis": {
            "orient": "right",
            "labels": false,
            "zindex": 2,
            "title": null
          }
        }
      }
    }
  ],
  "resolve": {"axis": {"x": "independent", "y": "independent"}},
  "config": {
    "view": {"stroke": null},
    "axis": {
      "grid": false,
      "domain": true,
      "domainColor": "black",
      "domainWidth": 4,
      "ticks": true,
      "tickColor": "black",
      "tickWidth": 2,
      "tickSize": -15,
      "labelFont": "DejaVu Sans",
      "labelFontSize": 52,
      "labelColor": "black",
      "labelOverlap": false,
      "labelFlush": false
    }
  }
}
